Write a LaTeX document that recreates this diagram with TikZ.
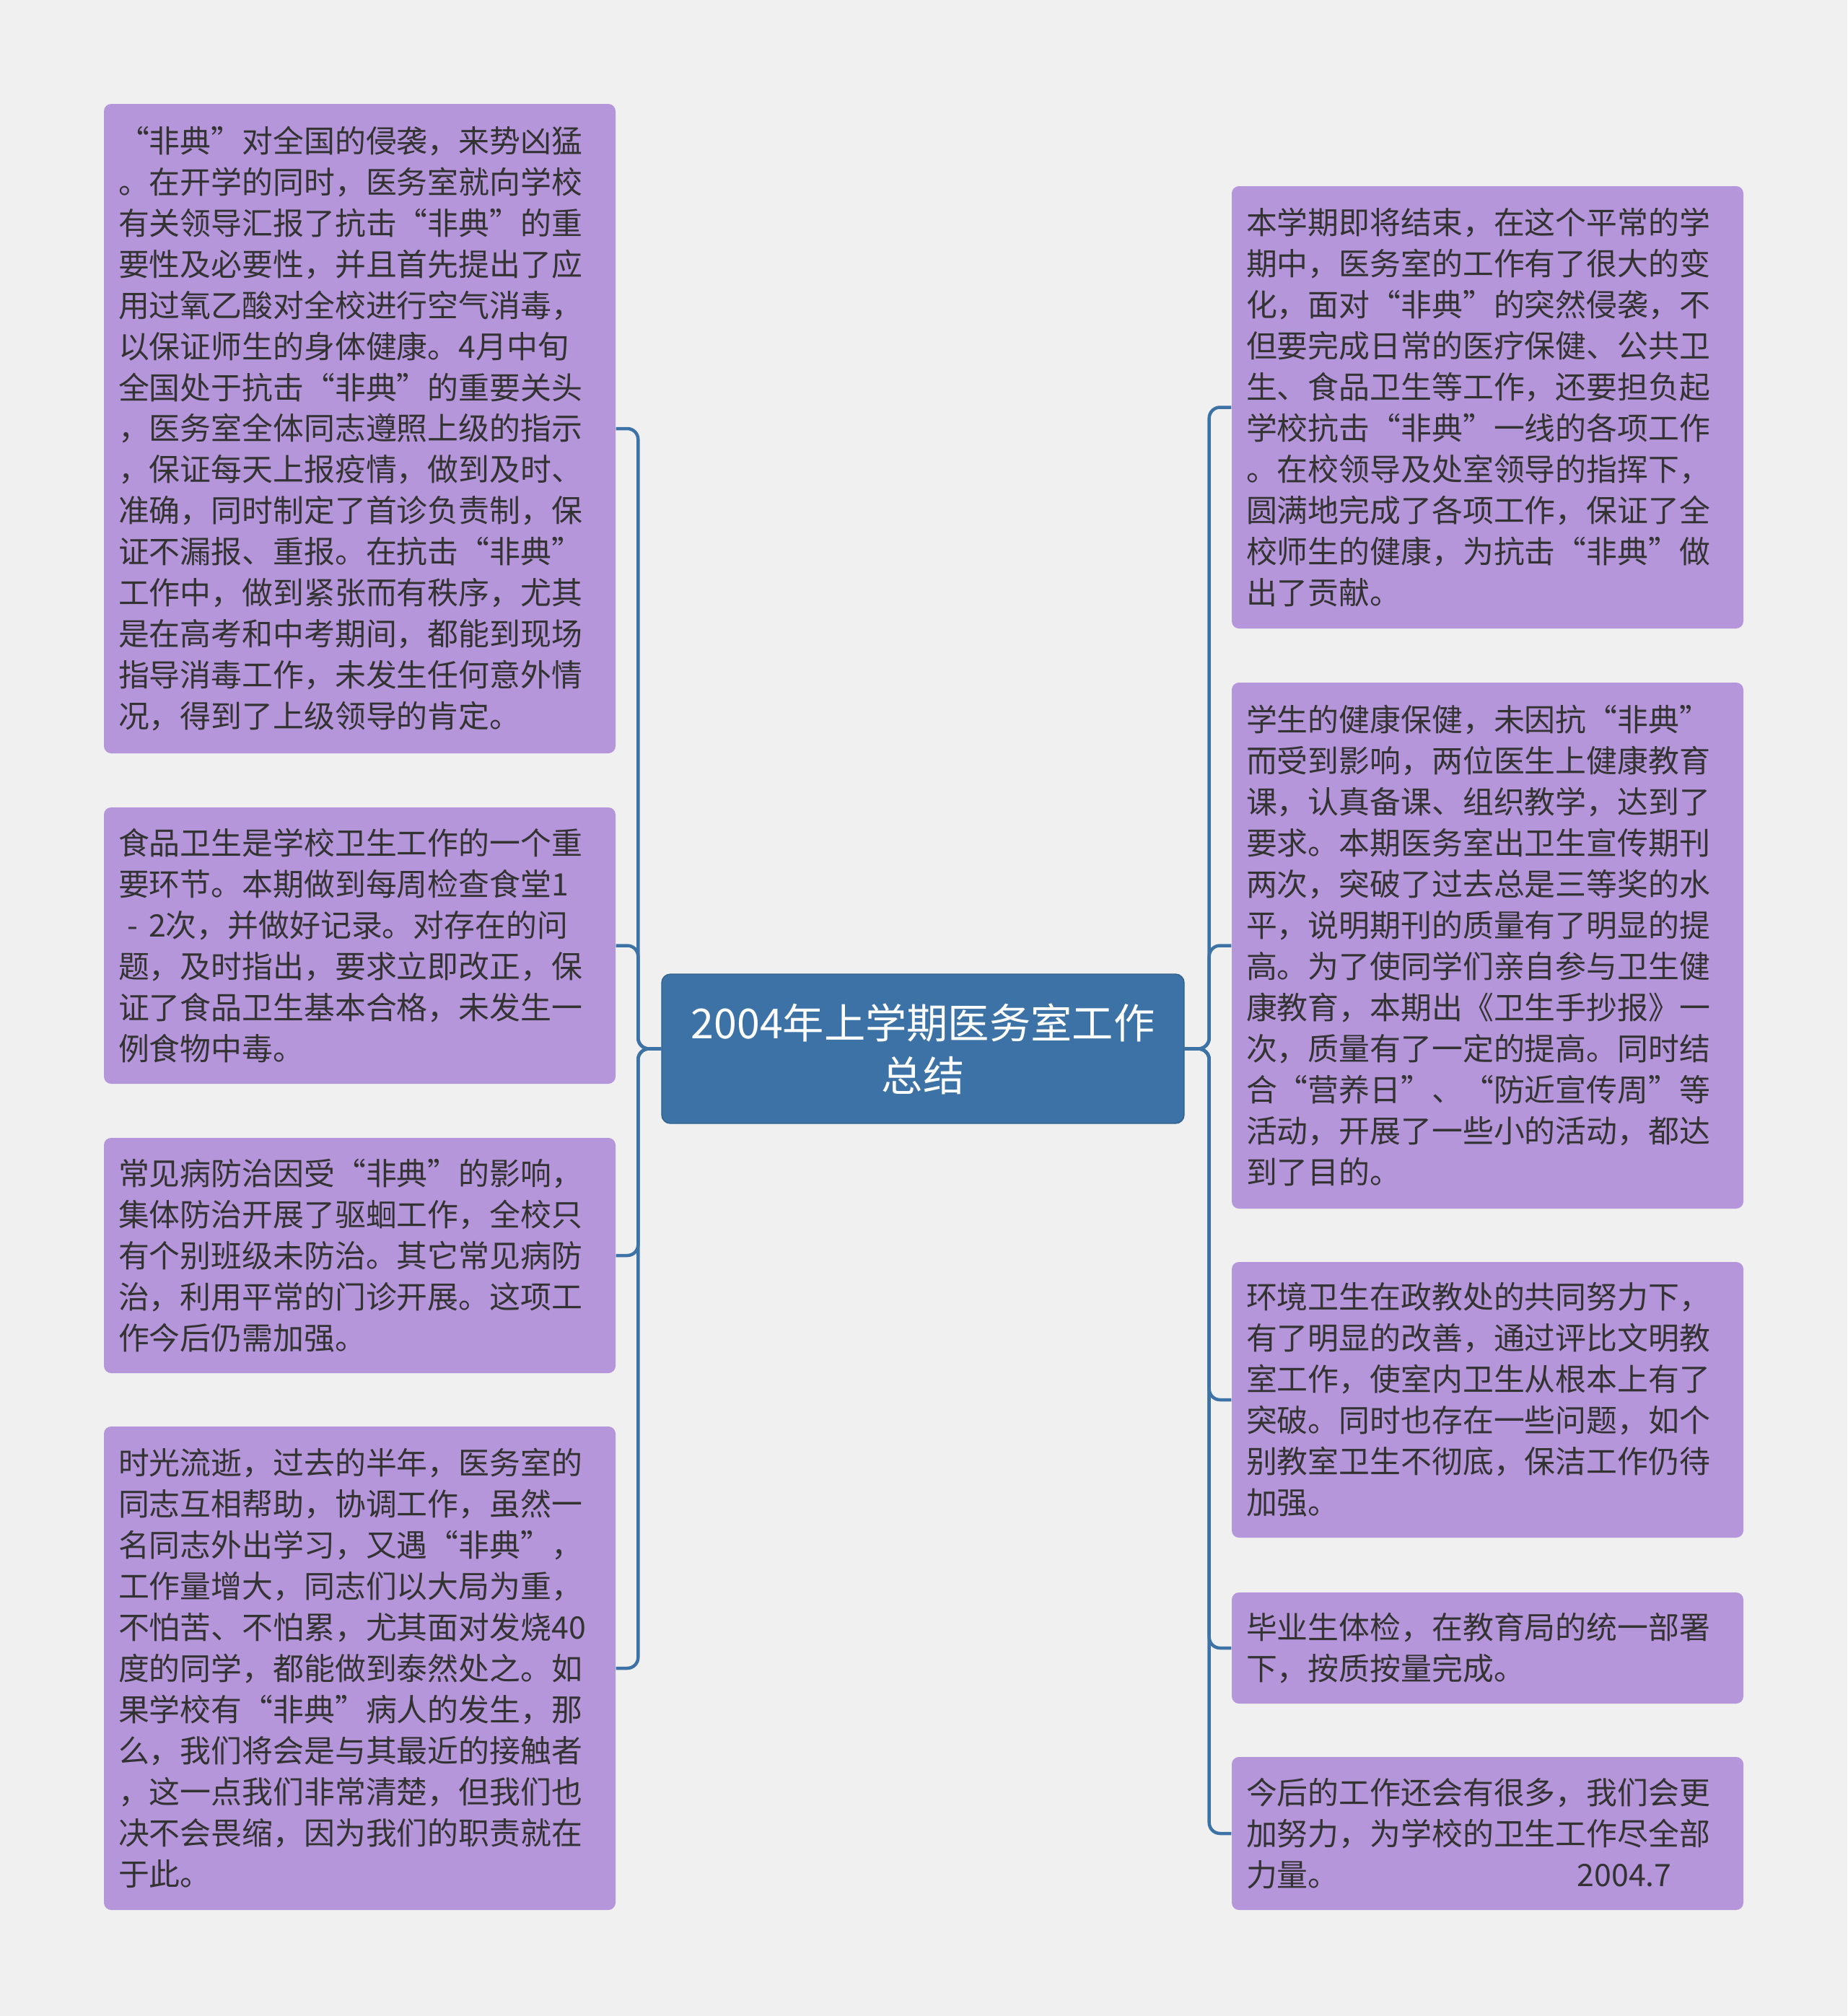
\documentclass[tikz,border=0pt]{standalone}
\usepackage{fontspec}
\setmainfont{Noto Sans CJK SC}
\usepackage{xcolor}
\usepackage{tikz}
\definecolor{pagebg}{HTML}{F0F0F0}
\definecolor{leaffill}{HTML}{B696DA}
\definecolor{rootfill}{HTML}{3C72A5}
\definecolor{linkblue}{HTML}{3C72A5}
\definecolor{inktext}{HTML}{333333}
\newcommand{\qt}[1]{\makebox[1em][r]{“}#1\makebox[1em][l]{”}}
\tikzstyle{leaf} = [rectangle, rounded corners=0.1cm, fill=leaffill, text=inktext, text width=6.69cm, minimum width=7.09cm, inner xsep=0.2cm, inner ysep=0.1cm, align=left, font=\fontsize{12.2pt}{16.2pt}\selectfont]
\tikzstyle{root} = [rectangle, rounded corners=0.12cm, fill=rootfill, draw=rootfill!85!black, text=white, text width=6.9cm, minimum width=7.24cm, minimum height=2.07cm, align=center, font=\fontsize{16.3pt}{20.8pt}\selectfont]
\tikzstyle{link} = [draw=linkblue, line width=0.045cm, rounded corners=0.15cm]
\begin{document}
\begin{tikzpicture}

\fill [pagebg] (0,0) rectangle (25.6,-27.94);
\useasboundingbox (0,0) rectangle (25.6,-27.94);

\node(title) [root] at (12.79,-14.535) {2004年上学期医务室工作\\总结};

% left side
\node(sars) [leaf, minimum height=9.0cm] at (4.985,-5.94) {\qt{非典}对全国的侵袭，来势凶猛\\。在开学的同时，医务室就向学校\\有关领导汇报了抗击\qt{非典}的重\\要性及必要性，并且首先提出了应\\用过氧乙酸对全校进行空气消毒，\\以保证师生的身体健康。4月中旬\\全国处于抗击\qt{非典}的重要关头\\，医务室全体同志遵照上级的指示\\，保证每天上报疫情，做到及时、\\准确，同时制定了首诊负责制，保\\证不漏报、重报。在抗击\qt{非典}\\工作中，做到紧张而有秩序，尤其\\是在高考和中考期间，都能到现场\\指导消毒工作，未发生任何意外情\\况，得到了上级领导的肯定。};
\node(food) [leaf, minimum height=3.83cm] at (4.985,-13.105) {食品卫生是学校卫生工作的一个重\\要环节。本期做到每周检查食堂1\\\hspace{0.3em}- 2次，并做好记录。对存在的问\\题，及时指出，要求立即改正，保\\证了食品卫生基本合格，未发生一\\例食物中毒。};
\node(disease) [leaf, minimum height=3.26cm] at (4.985,-17.4) {常见病防治因受\qt{非典}的影响，\\集体防治开展了驱蛔工作，全校只\\有个别班级未防治。其它常见病防\\治，利用平常的门诊开展。这项工\\作今后仍需加强。};
\node(team) [leaf, minimum height=6.7cm] at (4.985,-23.12) {时光流逝，过去的半年，医务室的\\同志互相帮助，协调工作，虽然一\\名同志外出学习，又遇\qt{非典}，\\工作量增大，同志们以大局为重，\\不怕苦、不怕累，尤其面对发烧40\\度的同学，都能做到泰然处之。如\\果学校有\qt{非典}病人的发生，那\\么，我们将会是与其最近的接触者\\，这一点我们非常清楚，但我们也\\决不会畏缩，因为我们的职责就在\\于此。};

% right side
\node(term) [leaf, minimum height=6.13cm] at (20.615,-5.645) {本学期即将结束，在这个平常的学\\期中，医务室的工作有了很大的变\\化，面对\qt{非典}的突然侵袭，不\\但要完成日常的医疗保健、公共卫\\生、食品卫生等工作，还要担负起\\学校抗击\qt{非典}一线的各项工作\\。在校领导及处室领导的指挥下，\\圆满地完成了各项工作，保证了全\\校师生的健康，为抗击\qt{非典}做\\出了贡献。};
\node(health) [leaf, minimum height=7.29cm] at (20.615,-13.105) {学生的健康保健，未因抗\qt{非典}\\而受到影响，两位医生上健康教育\\课，认真备课、组织教学，达到了\\要求。本期医务室出卫生宣传期刊\\两次，突破了过去总是三等奖的水\\平，说明期刊的质量有了明显的提\\高。为了使同学们亲自参与卫生健\\康教育，本期出《卫生手抄报》一\\次，质量有了一定的提高。同时结\\合\qt{营养日}、\qt{防近宣传周}等\\活动，开展了一些小的活动，都达\\到了目的。};
\node(clean) [leaf, minimum height=3.82cm] at (20.615,-19.4) {环境卫生在政教处的共同努力下，\\有了明显的改善，通过评比文明教\\室工作，使室内卫生从根本上有了\\突破。同时也存在一些问题，如个\\别教室卫生不彻底，保洁工作仍待\\加强。};
\node(exam) [leaf, minimum height=1.54cm] at (20.615,-22.84) {毕业生体检，在教育局的统一部署\\下，按质按量完成。};
\node(future) [leaf, minimum height=2.12cm] at (20.615,-25.41) {今后的工作还会有很多，我们会更\\加努力，为学校的卫生工作尽全部\\力量。\hspace{3.3cm}2004.7};

\draw [link] (title.west) -- ++(-0.32,0) |- (sars.east);
\draw [link] (title.west) -- ++(-0.32,0) |- (food.east);
\draw [link] (title.west) -- ++(-0.32,0) |- (disease.east);
\draw [link] (title.west) -- ++(-0.32,0) |- (team.east);

\draw [link] (title.east) -- ++(0.34,0) |- (term.west);
\draw [link] (title.east) -- ++(0.34,0) |- (health.west);
\draw [link] (title.east) -- ++(0.34,0) |- (clean.west);
\draw [link] (title.east) -- ++(0.34,0) |- (exam.west);
\draw [link] (title.east) -- ++(0.34,0) |- (future.west);

\end{tikzpicture}
\end{document}
